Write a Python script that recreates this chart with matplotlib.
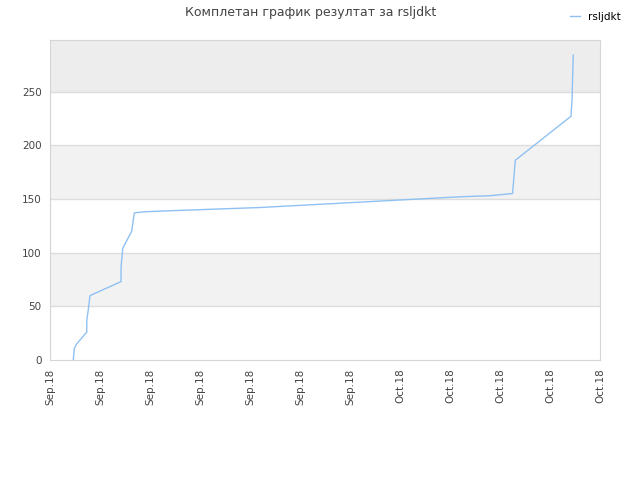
import matplotlib
matplotlib.use('Agg')
import matplotlib.pyplot as plt
import matplotlib.dates as mdates
import pandas as pd

# Data
times = [
    '2018-09-06 20:40', '2018-09-06 22:40', '2018-09-07 03:20', '2018-09-07 22:30',
    '2018-09-07 22:40', '2018-09-08 01:30', '2018-09-08 04:50', '2018-09-10 16:20',
    '2018-09-10 16:30', '2018-09-10 19:40', '2018-09-11 12:55', '2018-09-11 17:50',
    '2018-09-12 13:00', '2018-09-14 14:24', '2018-09-17 00:00', '2018-09-19 09:36',
    '2018-09-21 19:12', '2018-09-25 00:00', '2018-09-28 04:48', '2018-10-01 09:36',
    '2018-10-04 14:24', '2018-10-07 19:12', '2018-10-10 04:48', '2018-10-12 00:00',
    '2018-10-12 01:30', '2018-10-12 05:20', '2018-10-16 16:20', '2018-10-16 18:15',
    '2018-10-16 20:40',
]
scores = [0, 11, 15, 26, 37, 47, 60, 73, 87, 104, 120, 137, 138, 139, 140, 141,
          142, 144, 146, 148, 150, 152, 153, 155, 163, 186, 227, 242, 284]
tick_dates = pd.date_range('2018-09-05', '2018-10-19', freq='4D')
y_ticks = [0, 50, 100, 150, 200, 250]
y_max = 298

title = 'Комплетан график резултат за rsljdkt'
series_name = 'rsljdkt'

x = pd.to_datetime(times)

fig = plt.figure(figsize=(6.4, 4.8), dpi=100)
ax = fig.add_axes([50 / 640, 120 / 480, 550 / 640, 320 / 480])

# alternating horizontal bands
band_colors = ['white', '#f2f2f2', 'white', '#f2f2f2', 'white', '#ededed']
edges = y_ticks + [y_max]
for i in range(len(edges) - 1):
    ax.axhspan(edges[i], edges[i + 1], color=band_colors[i], zorder=0, lw=0)
for y in y_ticks[1:]:
    ax.axhline(y, color='#dddddd', lw=1, zorder=1)

ax.plot(x, scores, color='#8fc1f2', lw=1, label=series_name, zorder=3)

ax.set_xlim(tick_dates[0], tick_dates[-1])
ax.set_ylim(0, y_max)
ax.set_xticks(tick_dates)
ax.xaxis.set_major_formatter(mdates.DateFormatter('%b.%y'))
ax.set_yticks(y_ticks)
ax.tick_params(axis='both', length=0, labelsize=7.5, labelcolor='#444444', pad=6)
ax.tick_params(axis='x', rotation=90)
for s in ax.spines.values():
    s.set_color('#d5d5d5')

fig.text(0.485, 0.973, title, ha='center', va='center', fontsize=9, color='#444444')
fig.legend(loc='upper right', bbox_to_anchor=(0.985, 0.995), frameon=False,
           fontsize=7.5, handlelength=1.0, handletextpad=0.8)

fig.savefig('out.png', dpi=100)
